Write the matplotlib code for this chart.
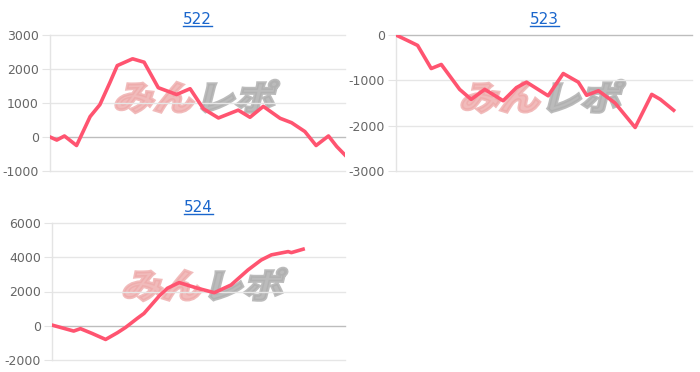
import matplotlib
matplotlib.use("Agg")
import matplotlib.pyplot as plt
from matplotlib.textpath import TextPath
from matplotlib.font_manager import FontProperties
from matplotlib.patches import PathPatch
from matplotlib.transforms import Affine2D, IdentityTransform

# ---- data ----
titles = ["522", "523", "524"]

x_522 = [0, 2.3, 4.9, 9.0, 13.6, 16.9, 20.3, 22.8, 28.0, 31.9, 36.7, 42.9, 47.5,
         52.0, 57.1, 63.8, 67.8, 72.3, 78.0, 81.9, 86.4, 90.2, 94.4, 97.2, 100]
y_522 = [0, -90, 30, -250, 600, 950, 1600, 2100, 2300, 2200, 1450, 1250, 1420,
         830, 560, 790, 580, 900, 550, 420, 160, -250, 30, -280, -530]

x_523 = [0, 4.0, 7.3, 11.9, 15.3, 21.5, 25.4, 30.0, 36.2, 40.7, 44.1, 51.4, 56.5,
         61.6, 64.4, 68.4, 74.0, 80.8, 86.4, 89.3, 93.8]
y_523 = [0, -125, -230, -740, -650, -1200, -1420, -1200, -1450, -1160, -1040, -1340,
         -850, -1040, -1330, -1230, -1500, -2040, -1310, -1420, -1660]

x_524 = [0, 7.4, 9.7, 13.7, 18.3, 22.3, 25.1, 29.1, 31.4, 36.6, 39.4, 43.4, 49.7,
         55.4, 61.1, 66.9, 71.4, 74.9, 80.6, 81.7, 85.7]
y_524 = [40, -310, -170, -450, -800, -410, -100, 430, 720, 1740, 2190, 2520, 2190,
         1930, 2380, 3260, 3840, 4140, 4330, 4270, 4470]

ticks_522 = [-1000, 0, 1000, 2000, 3000]
ticks_523 = [-3000, -2000, -1000, 0]
ticks_524 = [-2000, 0, 2000, 4000, 6000]

LINE = "#ff5470"
W, H = 700, 372
fig = plt.figure(figsize=(W / 100, H / 100), dpi=100)


def add_axes_px(l, t, r, b):
    return fig.add_axes([l / W, 1 - b / H, (r - l) / W, (b - t) / H])


def watermark(ax, cx, cy):
    fp = FontProperties(family="Noto Sans CJK JP", weight="heavy")
    size = 40
    parts = [("みん", "#eeaaaa", 0.8), ("レポ", "#b0b0b0", 0.85)]
    x0 = cx - 84
    for txt, col, a in parts:
        tp = TextPath((0, 0), txt, size=size, prop=fp)
        ext = tp.get_extents()
        tr = Affine2D().scale(1.0, 0.85).skew_deg(14, 0).translate(x0, cy - 15)
        path = tr.transform_path(tp)
        patch = PathPatch(path, facecolor=col, edgecolor=col, linewidth=2.2,
                          alpha=a, transform=IdentityTransform(), zorder=1,
                          clip_on=False)
        ax.add_patch(patch)
        x0 += ext.width + 4


def style(ax, xs, ys, ticks, xmax, title, wm_center):
    ax.plot(xs, ys, color=LINE, lw=2.6, zorder=3, solid_joinstyle="round")
    ax.set_xlim(0, xmax)
    ax.set_ylim(ticks[0], ticks[-1])
    ax.set_yticks(ticks)
    ax.set_yticklabels([str(t) for t in ticks])
    ax.set_xticks([])
    for s in ["top", "right", "bottom"]:
        ax.spines[s].set_visible(False)
    ax.spines["left"].set_color("#e4e4e4")
    ax.spines["left"].set_linewidth(1.0)
    for t in ticks:
        c = "#bdbdbd" if t == 0 else "#e6e6e6"
        ax.axhline(t, color=c, lw=1.0, zorder=2, clip_on=False)
    ax.tick_params(axis="y", length=6, color="#e4e4e4", labelsize=9,
                   labelcolor="#666666", pad=2)
    t = ax.set_title(title, pad=8)
    t.set_fontproperties(FontProperties(family="DejaVu Sans", size=11))
    t.set_color("#1a66cc")
    watermark(ax, *wm_center)


ax1 = add_axes_px(50, 35, 345, 171)
style(ax1, x_522, y_522, ticks_522, 100, "522", (197, H - 95))
ax2 = add_axes_px(396, 35, 692, 171)
style(ax2, x_523, y_523, ticks_523, 100, "523", (543, H - 95))
ax3 = add_axes_px(52, 223, 345, 360)
style(ax3, x_524, y_524, ticks_524, 100, "524", (205, H - 283))

fig.canvas.draw()
for ax in (ax1, ax2, ax3):
    t = ax.title
    bb = t.get_window_extent()
    fig.add_artist(plt.Line2D([bb.x0 / W, bb.x1 / W], [(bb.y0 + 1) / H] * 2,
                              color="#1a66cc", lw=1.0))

fig.savefig("out.png", dpi=100)
